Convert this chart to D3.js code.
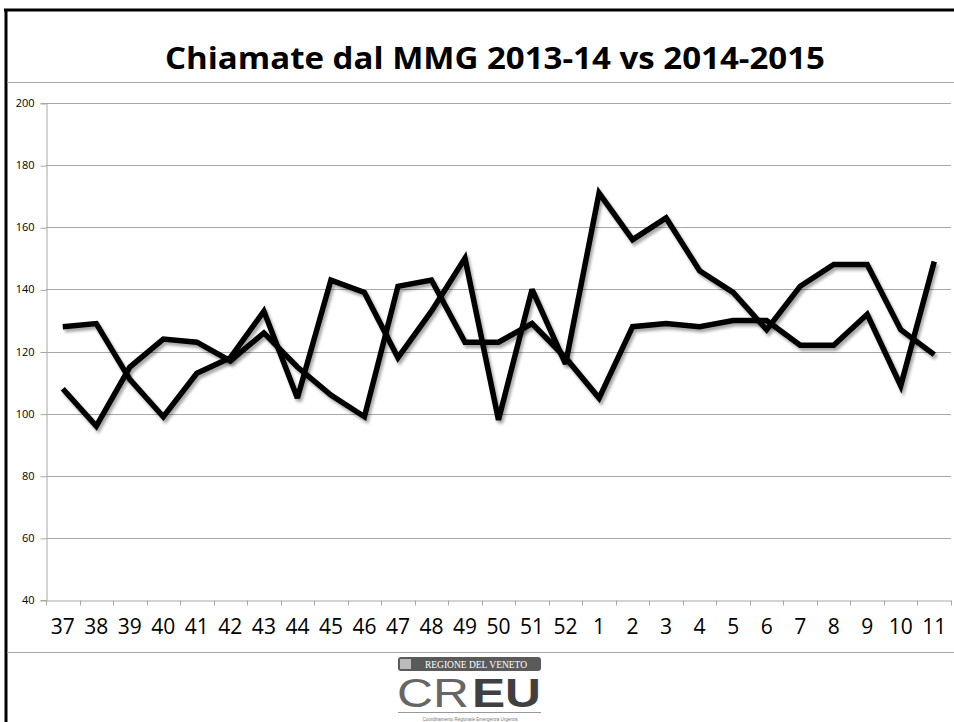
<!DOCTYPE html>
<html>
<head>
<meta charset="utf-8">
<script src="https://cdn.jsdelivr.net/npm/d3@7"></script>
<style>
  html, body { margin: 0; padding: 0; background: #fff; }
  svg { display: block; }
</style>
</head>
<body>
<div id="chart"></div>
<script>
// settimane (week numbers) on the x axis
var weeks = ['37','38','39','40','41','42','43','44','45','46','47','48','49','50','51','52',
             '1','2','3','4','5','6','7','8','9','10','11'];
// calls per week
var chiamateA = [128,129,111,99,113,118,133,105,143,139,118,133,150,98,140,116,
                 171,156,163,146,139,127,141,148,148,127,119];
var chiamateB = [108,96,115,124,123,117,126,115,106,99,141,143,123,123,129,118,
                 105,128,129,128,130,130,122,122,132,109,149];
var yTicks = [40,60,80,100,120,140,160,180,200];
var title = 'Chiamate dal MMG 2013-14 vs 2014-2015';

var width = 954, height = 722;
var gridColor = '#a8a8a8';

var svg = d3.select('#chart').append('svg')
    .attr('width', width)
    .attr('height', height);

var defs = svg.append('defs');
defs.append('filter')
    .attr('id', 'shadow')
    .attr('x', '-5%').attr('y', '-5%')
    .attr('width', '110%').attr('height', '115%')
  .append('feDropShadow')
    .attr('dx', 2).attr('dy', 3)
    .attr('stdDeviation', 1.8)
    .attr('flood-color', '#000')
    .attr('flood-opacity', 0.35);

// slide frame
svg.append('line')
    .attr('x1', 4).attr('x2', width)
    .attr('y1', 10).attr('y2', 10)
    .style('stroke', '#000').style('stroke-width', 3);
svg.append('line')
    .attr('x1', 6).attr('x2', 6)
    .attr('y1', 9).attr('y2', height)
    .style('stroke', '#000').style('stroke-width', 3);

// chart box borders
[82, 652].forEach(function (yy) {
    svg.append('line')
        .attr('x1', 7).attr('x2', width)
        .attr('y1', yy + 0.5).attr('y2', yy + 0.5)
        .style('stroke', gridColor).style('stroke-width', 1);
});

svg.append('text')
    .attr('x', 495)
    .attr('y', 69)
    .attr('text-anchor', 'middle')
    .attr('textLength', 660)
    .attr('lengthAdjust', 'spacingAndGlyphs')
    .style('font-family', '"Open Sans", sans-serif')
    .style('font-weight', 700)
    .style('font-size', '30px')
    .text(title);

var x = d3.scaleBand()
    .domain(weeks)
    .range([46, 951]);

var y = d3.scaleLinear()
    .domain([40, 200])
    .range([600, 103]);

var cx = function (i) { return x(weeks[i]) + x.bandwidth() / 2; };

// gridlines
svg.append('g')
    .selectAll('line')
    .data(yTicks.slice(1))
    .enter().append('line')
    .attr('x1', 46).attr('x2', 951)
    .attr('y1', function (d) { return Math.round(y(d)) + 0.5; })
    .attr('y2', function (d) { return Math.round(y(d)) + 0.5; })
    .style('stroke', gridColor)
    .style('stroke-width', 1);

// y axis
var yAxis = svg.append('g')
    .attr('transform', 'translate(46.5,0)')
    .call(d3.axisLeft(y).tickValues(yTicks).tickSize(6).tickPadding(6));
yAxis.select('.domain').style('stroke', gridColor);
yAxis.selectAll('.tick line').style('stroke', gridColor)
    .attr('transform', 'translate(0,0.5)');
yAxis.selectAll('.tick text')
    .style('font-family', '"Open Sans", sans-serif')
    .style('font-size', '11px')
    .style('fill', '#000');

// x axis
var xAxis = svg.append('g')
    .attr('transform', 'translate(0,600.5)')
    .call(d3.axisBottom(x).tickSize(0).tickPadding(19));
xAxis.select('.domain').style('stroke', gridColor);
xAxis.selectAll('.tick text')
    .style('font-family', '"Open Sans", sans-serif')
    .style('font-size', '21px')
    .style('fill', '#000');

// tick marks between the weeks
var bounds = weeks.map(function (w) { return x(w); }).concat([x.range()[1]]);
xAxis.append('g')
    .selectAll('line')
    .data(bounds)
    .enter().append('line')
    .attr('x1', function (d) { return Math.round(d) + 0.5; })
    .attr('x2', function (d) { return Math.round(d) + 0.5; })
    .attr('y1', 0).attr('y2', 5)
    .style('stroke', gridColor);

// series lines
var line = d3.line()
    .x(function (d, i) { return cx(i); })
    .y(function (d) { return y(d); });

[chiamateA, chiamateB].forEach(function (s) {
    svg.append('path')
        .datum(s)
        .attr('d', line)
        .attr('filter', 'url(#shadow)')
        .style('fill', 'none')
        .style('stroke', '#000')
        .style('stroke-width', 5.5)
        .style('stroke-linejoin', 'miter')
        .style('stroke-miterlimit', 3);
});

// logo at the bottom
var logo = svg.append('g');
logo.append('rect')
    .attr('x', 398).attr('y', 657)
    .attr('width', 143).attr('height', 14)
    .attr('rx', 3)
    .style('fill', '#5a5a5a');
logo.append('rect')
    .attr('x', 400).attr('y', 659)
    .attr('width', 11).attr('height', 10)
    .style('fill', '#bbb');
logo.append('text')
    .attr('x', 476).attr('y', 667.5)
    .attr('text-anchor', 'middle')
    .style('font-family', '"Liberation Serif", serif')
    .style('font-size', '9.5px')
    .style('fill', '#fff')
    .text('REGIONE DEL VENETO');
logo.append('text')
    .attr('x', 397).attr('y', 707)
    .style('font-family', '"Liberation Sans", sans-serif')
    .style('font-weight', 300)
    .style('font-size', '41px')
    .style('fill', '#666')
    .attr('textLength', 72)
    .attr('lengthAdjust', 'spacingAndGlyphs')
    .text('CR');
logo.append('text')
    .attr('x', 472).attr('y', 707)
    .style('font-family', '"Liberation Sans", sans-serif')
    .style('font-weight', 700)
    .style('font-size', '41px')
    .style('fill', '#404040')
    .attr('textLength', 69)
    .attr('lengthAdjust', 'spacingAndGlyphs')
    .text('EU');
logo.append('line')
    .attr('x1', 398).attr('x2', 541)
    .attr('y1', 712.5).attr('y2', 712.5)
    .style('stroke', '#999');
logo.append('text')
    .attr('x', 470).attr('y', 721)
    .attr('text-anchor', 'middle')
    .style('font-family', '"Liberation Sans", sans-serif')
    .style('font-size', '4.5px')
    .style('fill', '#777')
    .text('Coordinamento Regionale Emergenza Urgenza');
</script>
</body>
</html>
